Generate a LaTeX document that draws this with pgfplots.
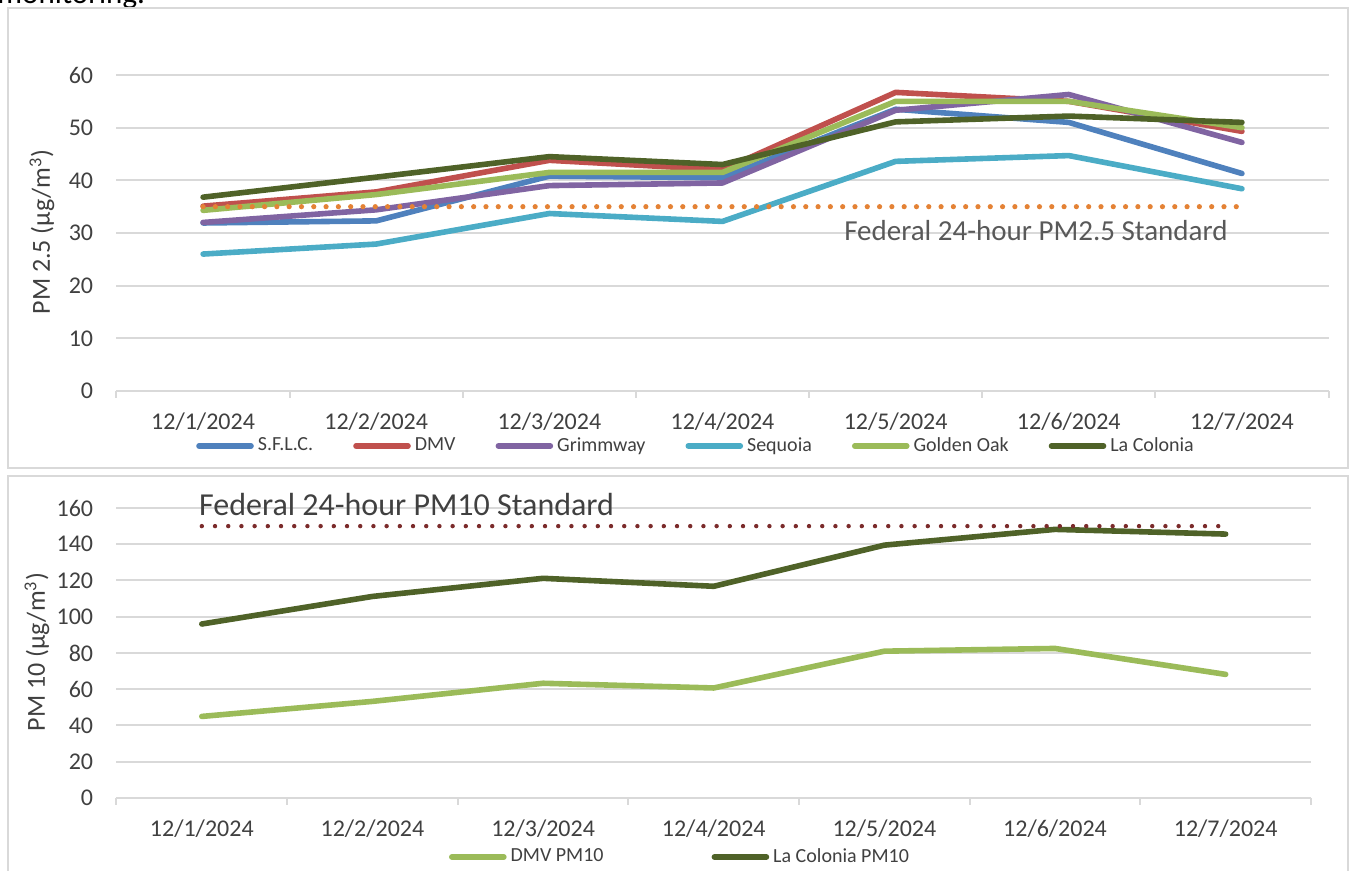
\documentclass[border=0pt]{standalone}
\usepackage{pgfplots}
\pgfplotsset{compat=1.18}
\usepackage{fontspec}
\setmainfont{Carlito}
\definecolor{cSFLC}{HTML}{4F81BD}
\definecolor{cDMV}{HTML}{C0504D}
\definecolor{cGrim}{HTML}{8064A2}
\definecolor{cSeq}{HTML}{4BACC6}
\definecolor{cGold}{HTML}{9BBB59}
\definecolor{cLaCol}{HTML}{4F6228}
\definecolor{cStdA}{HTML}{E48235}
\definecolor{cStdB}{HTML}{7B2B2B}
\definecolor{gridgray}{HTML}{D9D9D9}
\definecolor{txtgray}{HTML}{404040}
\definecolor{lblgray}{HTML}{595959}

\pgfplotsset{
  excelstyle/.style={
    scale only axis,
    anchor=south west,
    xmin=-0.5, xmax=6.5,
    xtick={0,...,6},
    xticklabels={12/1/2024,12/2/2024,12/3/2024,12/4/2024,12/5/2024,12/6/2024,12/7/2024},
    minor xtick={-0.5,0.5,...,6.5},
    axis x line*=bottom, axis y line*=left,
    y axis line style={draw=none},
    x axis line style={draw=gridgray, line width=1pt},
    tick align=outside,
    major tick length=0pt,
    minor tick length=3.5pt,
    minor tick style={draw=gridgray, line width=1pt},
    ymajorgrids,
    grid style={draw=gridgray, line width=1pt},
    tick label style={font=\fontsize{12}{14}\selectfont, text=txtgray},
    yticklabel style={anchor=east, inner sep=0pt, xshift=-11.5pt},
    xticklabel style={anchor=center, inner sep=0pt, yshift=-15.5pt},
    /pgf/number format/assume math mode=true,
    clip=false,
    legend cell align=left,
    legend image code/.code={\draw[#1, line cap=round] (0pt,0pt) -- (26pt,0pt);},
    every axis plot/.append style={line width=2.8pt, line join=round, line cap=round},
  }
}

\begin{document}
\begin{tikzpicture}
\useasboundingbox (0,0) rectangle (676.5pt,435.5pt);
% cut-off text above the chart (as in the source)
\node[anchor=base west, inner sep=0pt, font=\fontsize{15.5}{18}\selectfont] at (-1.5pt,433.5pt) {monitoring.};
% panel frames
\draw[gridgray, line width=1pt] (4pt,431.5pt) rectangle (674pt,201.5pt);
\draw[gridgray, line width=1pt] (4pt,-5pt) -- (4pt,197.5pt) -- (674pt,197.5pt) -- (674pt,-5pt);

% ---------------- PM2.5 ----------------
\begin{axis}[excelstyle,
  at={(58.25pt,240pt)},
  width=606pt, height=158pt,
  ymin=0, ymax=60, ytick={0,10,...,60},
  ylabel={PM 2.5 (µg/m\textsuperscript{3})},
  every axis y label/.style={at={(axis description cs:-0.0615,0.503)}, rotate=90, anchor=center, font=\fontsize{13}{15}\selectfont, text=txtgray},
  legend columns=6,
  legend style={draw=none, fill=none, at={(0.479,-0.174)}, anchor=center,
    font=\fontsize{10}{12}\selectfont, text=txtgray,
    /tikz/every even column/.append style={column sep=18pt}},
]
\addplot[cSFLC]  coordinates {(0,31.9) (1,32.3) (2,40.8) (3,40.5) (4,53.5) (5,51.0) (6,41.3)};
\addlegendentry{S.F.L.C.}
\addplot[cDMV]   coordinates {(0,35.1) (1,37.8) (2,43.8) (3,42.0) (4,56.7) (5,55.0) (6,49.3)};
\addlegendentry{DMV}
\addplot[cGrim]  coordinates {(0,32.0) (1,34.4) (2,39.0) (3,39.5) (4,53.3) (5,56.3) (6,47.2)};
\addlegendentry{Grimmway}
\addplot[cSeq]   coordinates {(0,26.0) (1,27.9) (2,33.7) (3,32.2) (4,43.6) (5,44.7) (6,38.4)};
\addlegendentry{Sequoia}
\addplot[cGold]  coordinates {(0,34.3) (1,37.3) (2,41.5) (3,41.5) (4,55.0) (5,55.0) (6,50.0)};
\addlegendentry{Golden Oak}
\addplot[cLaCol] coordinates {(0,36.8) (1,40.6) (2,44.5) (3,43.0) (4,51.1) (5,52.2) (6,51.0)};
\addlegendentry{La Colonia}
\addplot[cStdA, line width=2.6pt, dash pattern=on 0pt off 6.15pt, forget plot]
  coordinates {(0,35) (1,35) (2,35) (3,35) (4,35) (5,35) (6,35)};
\node[anchor=center, font=\fontsize{14.5}{17}\selectfont, text=lblgray] at (axis cs:4.81,30.4) {Federal 24-hour PM2.5 Standard};
\end{axis}

% ---------------- PM10 ----------------
\begin{axis}[excelstyle,
  at={(58.25pt,36.5pt)},
  width=597.25pt, height=145pt,
  ymin=0, ymax=160, ytick={0,20,...,160},
  ylabel={PM 10 (µg/m\textsuperscript{3})},
  every axis y label/.style={at={(axis description cs:-0.0666,0.503)}, rotate=90, anchor=center, font=\fontsize{13}{15}\selectfont, text=txtgray},
  legend columns=2,
  legend style={draw=none, fill=none, at={(0.4726,-0.2034)}, anchor=center,
    font=\fontsize{10}{12}\selectfont, text=txtgray,
    /tikz/every even column/.append style={column sep=52pt}},
]
\addplot[cGold]  coordinates {(0,45.0) (1,53.3) (2,63.3) (3,60.7) (4,81.0) (5,82.5) (6,68.2)};
\addlegendentry{DMV PM10}
\addplot[cLaCol] coordinates {(0,96.0) (1,111.2) (2,121.2) (3,116.8) (4,139.5) (5,148.2) (6,145.6)};
\addlegendentry{La Colonia PM10}
\addplot[cStdB, line width=2.2pt, dash pattern=on 0pt off 6.6pt, forget plot]
  coordinates {(0,150) (1,150) (2,150) (3,150) (4,150) (5,150) (6,150)};
\node[anchor=center, font=\fontsize{16}{19}\selectfont, text=txtgray] at (axis cs:1.2,161.7) {Federal 24-hour PM10 Standard};
\end{axis}
\end{tikzpicture}
\end{document}
